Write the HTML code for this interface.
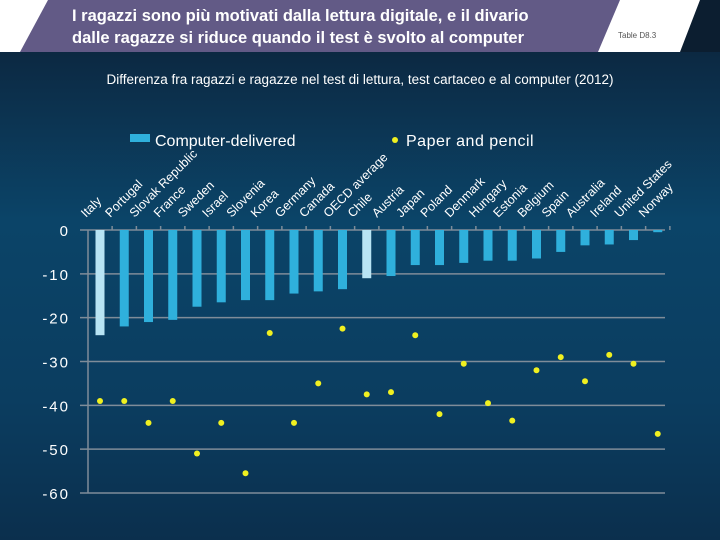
<!DOCTYPE html>
<html><head><meta charset="utf-8"><style>
html,body{margin:0;padding:0}
body{width:720px;height:540px;overflow:hidden;font-family:"Liberation Sans",sans-serif;background:linear-gradient(180deg,#0c1e30 0px,#0c2a44 60px,#0b4468 220px,#0b3d60 400px,#0b2f4d 540px);position:relative}
#hdr{position:absolute;left:0;top:0;width:720px;height:52px;background:#fff}
#ttl{position:absolute;left:0;top:0}
</style></head><body>
<div id="hdr"></div>
<svg id="ttl" width="720" height="540">
<polygon points="48,0 620,0 598,52 20,52" fill="#625a86"/>
<text x="72" y="21" fill="#fff" font-size="16.5" font-weight="bold" font-family="Liberation Sans Narrow,Liberation Sans,sans-serif">I ragazzi sono più motivati dalla lettura digitale, e il divario</text>
<text x="72" y="43" fill="#fff" font-size="16.5" font-weight="bold" font-family="Liberation Sans Narrow,Liberation Sans,sans-serif">dalle ragazze si riduce quando il test è svolto al computer</text>
<text x="618" y="38" fill="#555" font-size="8">Table D8.3</text>
<polygon points="700,0 720,0 720,52 680,52" fill="#0c1e30"/>
<text x="360" y="84" fill="#fff" font-size="13.5" text-anchor="middle">Differenza fra ragazzi e ragazze nel test di lettura, test cartaceo e al computer (2012)</text>
<rect x="130" y="134" width="20" height="8" fill="#2fb0dc"/>
<text x="155" y="146" fill="#fff" font-size="16">Computer-delivered</text>
<circle cx="395" cy="140" r="3" fill="#f0f020"/>
<text x="406" y="146" fill="#fff" font-size="16" letter-spacing="0.5">Paper and pencil</text>
<g id="plot"></g>
</svg>
<script>
const categories=["Italy","Portugal","Slovak Republic","France","Sweden","Israel","Slovenia","Korea","Germany","Canada","OECD average","Chile","Austria","Japan","Poland","Denmark","Hungary","Estonia","Belgium","Spain","Australia","Ireland","United States","Norway"];
const computerValues=[-24,-22,-21,-20.5,-17.5,-16.5,-16,-16,-14.5,-14,-13.5,-11,-10.5,-8,-8,-7.5,-7,-7,-6.5,-5,-3.5,-3.3,-2.3,-0.5];
const paperValues=[-39,-39,-44,-39,-51,-44,-55.5,-23.5,-44,-35,-22.5,-37.5,-37,-24,-42,-30.5,-39.5,-43.5,-32,-29,-34.5,-28.5,-30.5,-46.5];
const highlighted=[0,11];
const yTicks=[0,-10,-20,-30,-40,-50,-60];
const NS="http://www.w3.org/2000/svg";
const g=document.getElementById("plot");
const x0=88,x1=665,step=24.25,first=100;
function xs(i){return first+i*step;}
function ys(v){return 230-v*(263/60);}
function mk(t,a){const e=document.createElementNS(NS,t);for(const k in a)e.setAttribute(k,a[k]);g.appendChild(e);return e;}
yTicks.forEach(v=>{
 const l=mk("line",{x1:x0-8,x2:x1,y1:ys(v),y2:ys(v),stroke:"#7f8c99","stroke-width":1.5});
 
 
 const t=mk("text",{x:70,y:ys(v)+6,fill:"#fff","font-size":15,"text-anchor":"end","letter-spacing":"2"});
 t.textContent=String(v);
 
 
});
const ax=mk("line",{x1:x0,x2:x0,y1:230,y2:ys(-60),stroke:"#7f8c99","stroke-width":1.5});


categories.forEach((c,i)=>{
 const tk=mk("line",{x1:xs(i)+step/2,x2:xs(i)+step/2,y1:226,y2:230,stroke:"#7f8c99","stroke-width":1.5});
 
 
 const v=computerValues[i];
 const b=mk("rect",{x:xs(i)-4.5,y:ys(0),width:9,height:ys(v)-ys(0),fill:highlighted.includes(i)?"#b8e4f4":"#2fb0dc"});
 
 
 const d=mk("circle",{cx:xs(i),cy:ys(paperValues[i]),r:3,fill:"#f0f020"});
 
 
 const t=mk("text",{x:0,y:0,fill:"#fff","font-size":12.5,transform:`translate(${xs(i)-14},218) rotate(-45)`});
 t.textContent=c;
 
 
});
</script>
</body></html>
